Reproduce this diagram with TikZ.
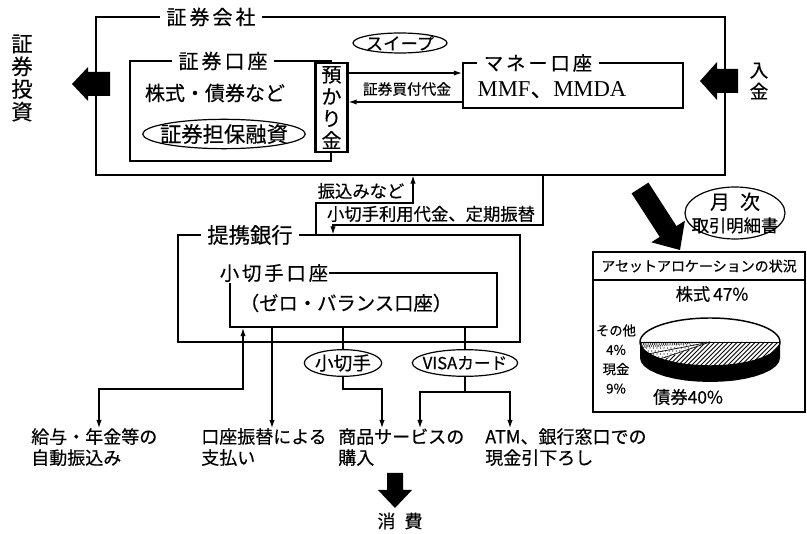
\documentclass[tikz,border=0pt]{standalone}
\usepackage{fontspec}
\setmainfont{Noto Sans CJK JP}[FakeBold=0.4]
\newfontfamily\jpfont{Noto Sans CJK JP}[FakeBold=0.4]
\newfontfamily\jpsp{Noto Sans CJK JP}[LetterSpace=15,FakeBold=0.4]
\newfontfamily\serifmm{Liberation Serif}
\usetikzlibrary{arrows.meta,fit,shapes.geometric}
\begin{document}
\begin{tikzpicture}[x=0.75pt,y=-0.75pt,
  thinbox/.style={draw,line width=1pt,inner sep=0pt},
  thickbox/.style={draw,line width=1.8pt,inner sep=0pt},
  boxtitle/.style={fill=white,inner xsep=5pt,inner ysep=1pt},
  conn/.style={line width=0.8pt},
  endarrow/.style={-{Latex[length=6pt,width=4pt]}},
  bothends/.style={{Latex[length=6pt,width=4pt]}-{Latex[length=6pt,width=4pt]}},
  oval/.style={ellipse,draw,line width=0.9pt,inner sep=0pt},
  bottomlabel/.style={anchor=north west,inner sep=0pt,align=left,font=\fontsize{13.5}{15.75}\selectfont}
]
\useasboundingbox (0,0) rectangle (807,534);

% ---------- securities company ----------
\node[thinbox,fit={(96,17) (725,175)}] (outer) {};
\node[boxtitle,font=\jpsp\fontsize{15}{18}\selectfont] (touter) at (211,17) {証券会社};

\node[thickbox,fit={(130,61) (331,161)}] (shoken) {};
\node[boxtitle,font=\jpsp\fontsize{15}{18}\selectfont] (tshoken) at (223,61) {証券口座};
\node[font=\fontsize{15}{18}\selectfont] (kabu) at (215,93) {株式・債券など};
\node[oval,minimum width=122pt,minimum height=22pt,
      label={[font=\fontsize{16}{18}\selectfont]center:証券担保融資}] (tanpo) at (224,134) {};

\node[thickbox,fill=white,minimum width=24pt,minimum height=66.75pt,align=center,
      font=\fontsize{15}{16.5}\selectfont] (yoka) at (331.5,107.5) {預\\か\\り\\金};

\node[oval,minimum width=70.5pt,minimum height=15pt,
      label={[font=\fontsize{13}{15}\selectfont]center:スイープ}] (sweep) at (400,43) {};

\node[thickbox,fit={(463,63) (683,108)}] (money) {};
\node[boxtitle,font=\jpsp\fontsize{14.5}{18}\selectfont] (tmoney) at (538,63) {マネー口座};
\node[font=\serifmm\fontsize{17}{20}\selectfont] (mmf) at (552,90) {MMF{\jpfont 、}MMDA};

\coordinate (sw1) at (0,73);
\coordinate (sw2) at (0,102);
\draw[conn,endarrow] (yoka.east |- sw1) -- (money.west |- sw1);
\draw[conn,endarrow] (money.west |- sw2) -- (yoka.east |- sw2);
\node[font=\fontsize{11}{13}\selectfont] (buy) at (407,89) {証券買付代金};

% big side arrows
\fill (72,84) -- (88,67) -- (88,72) -- (110,72) -- (110,96) -- (88,96) -- (88,101) -- cycle;
\node[align=center,font=\fontsize{16}{17}\selectfont] (toushi) at (22,78) {証\\券\\投\\資};
\fill (700,81) -- (717,62) -- (717,69) -- (738,69) -- (738,93) -- (717,93) -- (717,100) -- cycle;
\node[align=center,font=\fontsize{14}{16}\selectfont] (nyukin) at (759,81) {入\\金};

% ---------- partner bank ----------
\node[thinbox,fit={(178,235) (520,342)}] (teikei) {};
\node[boxtitle,font=\fontsize{16}{18}\selectfont] (tteikei) at (250,235) {提携銀行};
\node[thickbox,fit={(230,273) (497,327)}] (kogitte) {};
\node[boxtitle,inner xsep=1pt,font=\jpsp\fontsize{14.5}{18}\selectfont] (tkogitte) at (274,273) {小切手口座};
\node[font=\fontsize{14.5}{17}\selectfont] (zero) at (346,303) {（ゼロ・バランス口座）};

% transfers between company and bank
\coordinate (f1) at (316,203);
\coordinate (f2) at (413,203);
\draw[conn,endarrow] (teikei.north -| f1) -- (f1) -- (f2) -- (outer.south -| f2);
\node[font=\fontsize{13}{15}\selectfont] (lfuri) at (361,191) {振込みなど};
\coordinate (k1) at (543,225);
\coordinate (k2) at (333,225);
\draw[conn,endarrow] (outer.south -| k1) -- (k1) -- (k2) -- (teikei.north -| k2);
\node[font=\fontsize{13}{15}\selectfont] (lkogi) at (431,214) {小切手利用代金、定期振替};

% check / card
\node[oval,minimum width=58pt,minimum height=20pt,
      label={[font=\fontsize{14}{16}\selectfont]center:小切手}] (check) at (343,363) {};
\node[oval,minimum width=79pt,minimum height=20pt,
      label={[font=\fontsize{12.5}{15}\selectfont]center:VISAカード}] (visa) at (465,363) {};

% bottom labels
\node[bottomlabel] (kyuyo) at (31,428) {給与・年金等の\\自動振込み};
\node[bottomlabel] (furikae) at (201,428) {口座振替による\\支払い};
\node[bottomlabel] (shohin) at (338,428) {商品サービスの\\購入};
\node[bottomlabel] (atm) at (485,428) {ATM、銀行窓口での\\現金引下ろし};

\coordinate (g1) at (243,389);
\coordinate (g2) at (99,389);
\draw[conn,bothends] (kyuyo.north -| g2) -- (g2) -- (g1) -- (kogitte.south -| g1);
\coordinate (c272) at (272,0);
\draw[conn,endarrow] (kogitte.south -| c272) -- (furikae.north -| c272);
\draw[conn] (check.north |- kogitte.south) -- (check.north);
\coordinate (s1) at (382,389);
\draw[conn,endarrow] (check.south) |- (s1) -- (shohin.north -| s1);
\draw[conn] (visa.north |- kogitte.south) -- (visa.north);
\coordinate (v1) at (420,392);
\coordinate (v2) at (510,392);
\draw[conn] (visa.south) -- (visa.south |- v1);
\draw[conn,bothends] (shohin.north -| v1) -- (v1) -- (v2) -- (atm.north -| v2);

% consumption
\fill (395,508) -- (378,490) -- (387,490) -- (387,473) -- (403,473) -- (403,490) -- (412,490) -- cycle;
\node[font=\fontsize{13.5}{16}\selectfont] (shohi) at (400,521) {消\hspace{0.5em}費};

% ---------- monthly statement ----------
\fill (631.6,193.4) -- (648.4,182.6) -- (676.5,226.1) -- (684.9,220.7) -- (680,250) -- (651.3,242.3) -- (659.7,236.9) -- cycle;
\node[oval,minimum width=75pt,minimum height=39pt,
      label={[align=center,font=\fontsize{13}{17}\selectfont]center:{{\fontsize{15}{17}\selectfont 月\hspace{0.5em}次}\\取引明細書}}] (getsuji) at (735,213) {};

\node[thinbox,fit={(593,252) (805,412)}] (piebox) {};
\coordinate (hl) at (0,280);
\draw[line width=1pt] (piebox.west |- hl) -- (piebox.east |- hl);
\node[font=\fontsize{10.5}{12}\selectfont] (pietitle) at (699,266) {アセットアロケーションの状況};

% pie face (centre 710,342; radii 70 x 24 px)
\fill[white] (710,342) ellipse [x radius=52.5pt, y radius=18pt];
% bonds: hatched
\begin{scope}
  \clip (710,342) ellipse [x radius=52.5pt, y radius=18pt];
  \clip (710,342) -- (822,342) -- (789.2,370.3) -- (710,384) -- (632.2,370.8) -- cycle;
  \foreach \k in {0,...,55} \draw[line width=0.7pt] ({540+4.5*\k},400) -- ({640+4.5*\k},300);
\end{scope}
% cash: dots
\begin{scope}
  \clip (710,342) ellipse [x radius=52.5pt, y radius=18pt];
  \clip (710,342) -- (632.2,370.8) -- (601.3,351.7) -- cycle;
  \foreach \i in {0,...,30} \foreach \j in {0,...,12}
    \fill ({636+3.5*\i+1.75*mod(\j,2)},{342+3*\j}) circle[radius=0.55pt];
\end{scope}
% others: dense dots
\begin{scope}
  \clip (710,342) ellipse [x radius=52.5pt, y radius=18pt];
  \clip (710,342) -- (601.3,351.7) -- (598,342) -- cycle;
  \foreach \i in {0,...,40} \foreach \j in {0,...,5}
    \fill ({636+2.2*\i+1.1*mod(\j,2)},{342+2*\j}) circle[radius=0.6pt];
\end{scope}
\draw[line width=0.6pt] (640,342) -- (780,342);
\draw[line width=0.5pt] (710,342) -- (648,354);
\draw[line width=0.5pt] (710,342) -- (660,359);
% black rim (crescent below the face)
\fill (780,342) -- (780,358) -- (778.9,362.2) -- (775.8,366.2) -- (770.6,370) -- (763.6,373.4)
  -- (755,376.4) -- (745,378.8) -- (733.9,380.6) -- (722.2,381.6) -- (710,382)
  -- (697.8,381.6) -- (686.1,380.6) -- (675,378.8) -- (665,376.4) -- (656.4,373.4)
  -- (649.4,370) -- (644.2,366.2) -- (641.1,362.2) -- (640,358) -- (640,342)
  -- (641.1,346.2) -- (644.2,350.2) -- (649.4,354) -- (656.4,357.4) -- (665,360.4)
  -- (675,362.8) -- (686.1,364.6) -- (697.8,365.6) -- (710,366) -- (722.2,365.6)
  -- (733.9,364.6) -- (745,362.8) -- (755,360.4) -- (763.6,357.4) -- (770.6,354)
  -- (775.8,350.2) -- (778.9,346.2) -- cycle;
\draw[line width=1.1pt] (710,342) ellipse [x radius=52.5pt, y radius=18pt];

\node[font=\fontsize{13}{15}\selectfont] (kabup) at (712,294) {株式\,47\%};
\node[font=\fontsize{13}{15}\selectfont] (saip) at (688,397) {債券40\%};
\node[align=center,font=\fontsize{10}{14.5}\selectfont] (sonota) at (616,359) {その他\\4\%\\現金\\9\%};
\end{tikzpicture}
\end{document}
